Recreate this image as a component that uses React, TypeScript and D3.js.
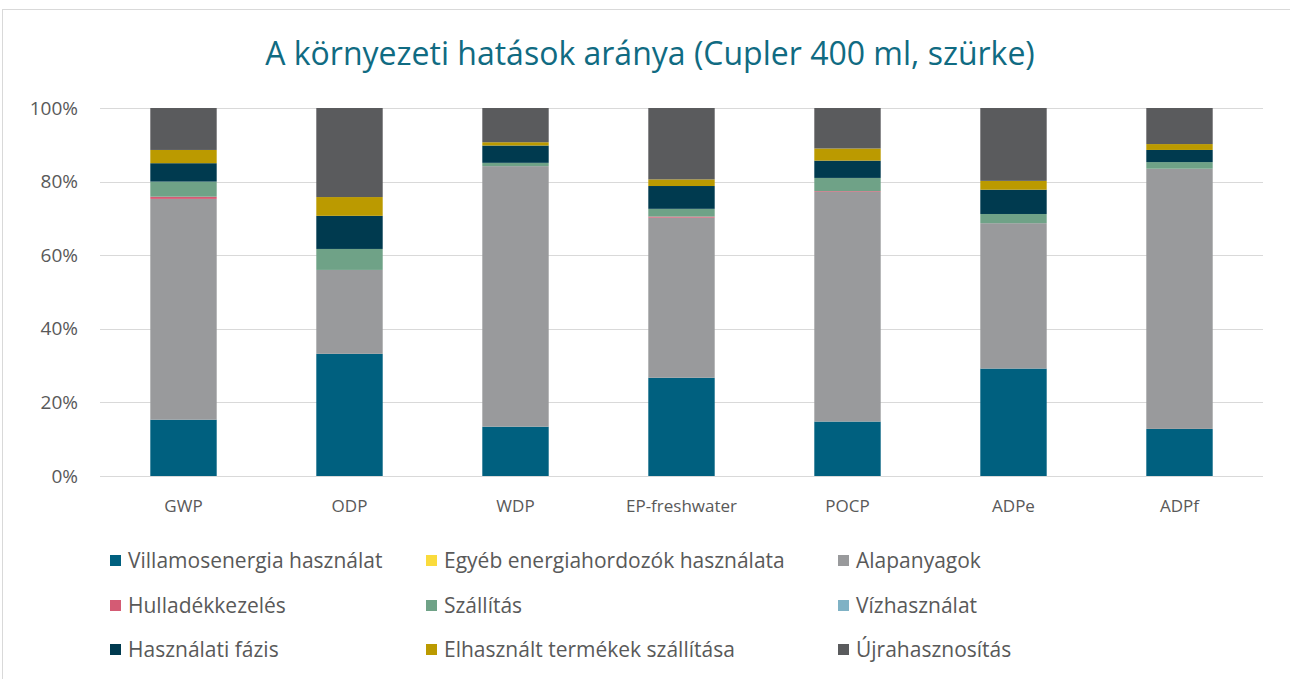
import React from "react";
import * as d3 from "d3";

const categories = ["GWP", "ODP", "WDP", "EP-freshwater", "POCP", "ADPe", "ADPf"];
const seriesNames = [
  "Villamosenergia használat",
  "Egyéb energiahordozók használata",
  "Alapanyagok",
  "Hulladékkezelés",
  "Szállítás",
  "Vízhasználat",
  "Használati fázis",
  "Elhasznált termékek szállítása",
  "Újrahasznosítás",
];
const villamosenergia = [15.3, 33.2, 13.4, 26.7, 14.8, 29.2, 12.8];
const egyebEnergia = [0, 0, 0, 0, 0, 0, 0];
const alapanyagok = [60.0, 22.8, 70.8, 43.5, 62.4, 39.5, 70.7];
const hulladekkezeles = [0.6, 0, 0, 0.3, 0.2, 0, 0];
const szallitas = [4.1, 5.7, 0.9, 2.1, 3.6, 2.5, 1.8];
const vizhasznalat = [0, 0, 0, 0, 0, 0, 0];
const hasznalatiFazis = [5.0, 9.0, 4.7, 6.2, 4.7, 6.6, 3.3];
const elhasznaltSzallitas = [3.6, 5.1, 0.9, 1.8, 3.3, 2.4, 1.6];
const ujrahasznositas = [11.4, 24.2, 9.3, 19.4, 11.0, 19.8, 9.8];
const yTicks = [0, 20, 40, 60, 80, 100];
const colors = ["#00607F", "#FADB3C", "#999A9C", "#D45B74", "#6FA287", "#7FB2C5", "#003A4F", "#BB9A00", "#5A5B5D"];

const seriesValues = [
  villamosenergia, egyebEnergia, alapanyagok, hulladekkezeles, szallitas,
  vizhasznalat, hasznalatiFazis, elhasznaltSzallitas, ujrahasznositas,
];

export default function App() {
  const W = 1290, H = 679;
  const x = d3.scaleBand<string>().domain(categories).range([100.5, 1262.5]).paddingInner(0.6).paddingOuter(0.3);
  const y = d3.scaleLinear().domain([0, 100]).range([476, 108]);
  const rows = categories.map((c, i) => {
    const r: Record<string, any> = { cat: c };
    seriesNames.forEach((s, j) => (r[s] = seriesValues[j][i]));
    return r;
  });
  const stacked = d3.stack<any>().keys(seriesNames)(rows);
  const font = "'Open Sans', sans-serif";
  const legendCols = [110, 426, 838];
  const legendRows = [561, 606, 650];

  return (
    <svg width={W} height={H} style={{ position: "absolute", left: 0, top: 0 }} fontFamily={font}>
      <rect x={0} y={0} width={W} height={H} fill="#fff" />
      <rect x={2.5} y={9.5} width={1320} height={700} fill="none" stroke="#D9D9D9" strokeWidth={1} />
      <text x={650} y={65} textAnchor="middle" fontSize={32} fill="#106B82">
        A környezeti hatások aránya (Cupler 400 ml, szürke)
      </text>
      {yTicks.map((t) => (
        <g key={t}>
          <line x1={100} x2={1263} y1={Math.round(y(t)) + 0.5} y2={Math.round(y(t)) + 0.5} stroke="#D9D9D9" strokeWidth={1} />
          <text x={78} y={y(t)} dy="0.35em" textAnchor="end" fontSize={19} fill="#595959">
            {t}%
          </text>
        </g>
      ))}
      {stacked.map((s, j) => (
        <g key={s.key} fill={colors[j]}>
          {s.map((d, i) => {
            const h = y(d[0]) - y(d[1]);
            if (h <= 0) return null;
            return <rect key={i} x={x(categories[i])} y={y(d[1])} width={x.bandwidth()} height={h} />;
          })}
        </g>
      ))}
      {categories.map((c) => (
        <text key={c} x={(x(c) as number) + x.bandwidth() / 2} y={506} dy="0.35em" textAnchor="middle" fontSize={17} fill="#595959">
          {c}
        </text>
      ))}
      {seriesNames.map((s, j) => {
        const cx = legendCols[j % 3];
        const cy = legendRows[Math.floor(j / 3)];
        return (
          <g key={s}>
            <rect x={cx} y={cy - 6} width={11} height={11} fill={colors[j]} />
            <text x={cx + 18} y={cy} dy="0.35em" fontSize={21} fill="#595959">
              {s}
            </text>
          </g>
        );
      })}
    </svg>
  );
}
